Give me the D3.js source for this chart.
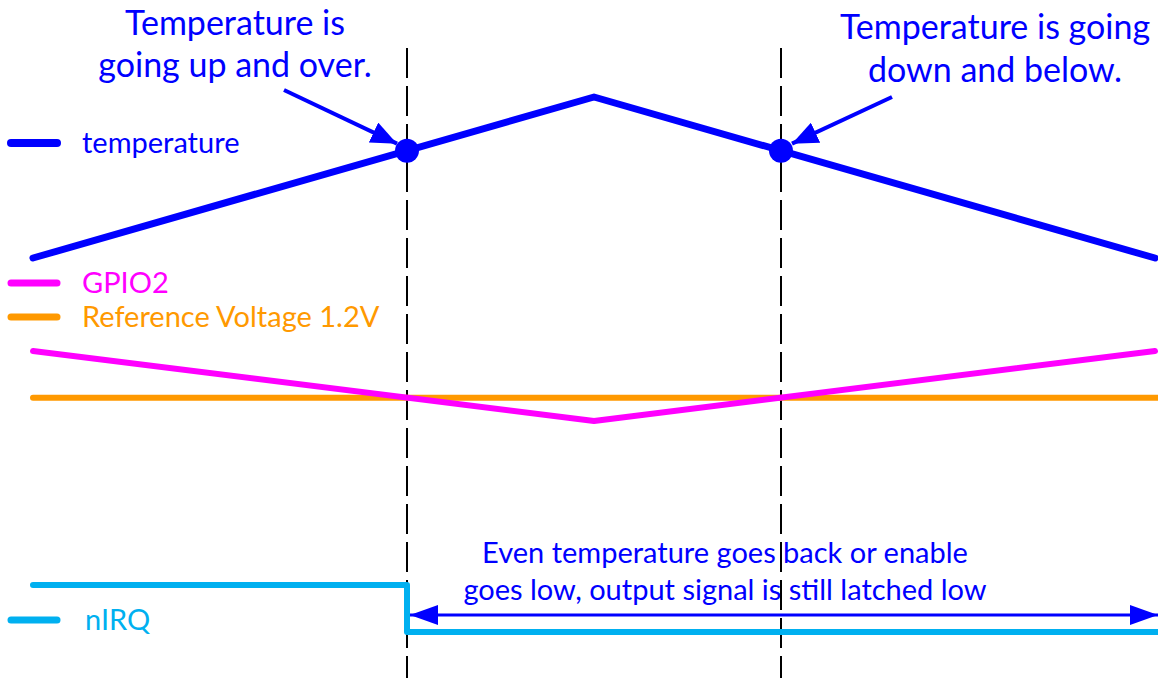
<!DOCTYPE html>
<html>
<head>
<meta charset="utf-8">
<script src="https://cdn.jsdelivr.net/npm/d3@7"></script>
<style>
  html, body { margin: 0; padding: 0; background: #fff; }
  svg { display: block; }
  text { font-family: Lato, "Open Sans", sans-serif; }
</style>
</head>
<body>
<svg id="chart" width="1158" height="678"></svg>
<script>
// Timing diagram: temperature ramp, GPIO2 comparator input vs. reference, latched nIRQ output.

// time axis (arbitrary units)
const timeDomain = [0, 60];
const crossTimes = [20, 40];          // where GPIO2 crosses the reference

// temperature (arbitrary units)
const temperatureT = [0, 30, 60];
const temperatureV = [20, 80, 20];

// GPIO2 voltage (V) and the reference level
const gpioT = [0, 30, 60];
const gpioV = [1.5, 1.05, 1.5];
const refVoltage = 1.2;

// nIRQ logic level: high until the first crossing, then latched low
const nirqT = [0, 20, 20, 60];
const nirqV = [1, 1, 0, 0];

const legendLabels = ["temperature", "GPIO2", "Reference Voltage 1.2V", "nIRQ"];
const noteUp = ["Temperature is", "going up and over."];
const noteDown = ["Temperature is going", "down and below."];
const noteLatch = ["Even temperature goes back or enable", "goes low, output signal is still latched low"];

const C = { temp: "#0000ff", gpio: "#ff00ff", ref: "#ff9900", nirq: "#00b0f0", note: "#0000ff" };

const svg = d3.select("#chart");

const x = d3.scaleLinear().domain(timeDomain).range([33, 1155]);
const yTemp = d3.scaleLinear().domain([20, 80]).range([258, 97]);
const yVolt = d3.scaleLinear().domain([1.05, 1.5]).range([421, 351]);
const yLogic = d3.scaleLinear().domain([0, 1]).range([632, 585]);

// arrowheads
const defs = svg.append("defs");
function head(id, len, half) {
  defs.append("marker")
    .attr("id", id)
    .attr("viewBox", `0 ${-half} ${len} ${2 * half}`)
    .attr("refX", len).attr("refY", 0)
    .attr("markerUnits", "userSpaceOnUse")
    .attr("markerWidth", len).attr("markerHeight", 2 * half)
    .attr("orient", "auto-start-reverse")
    .append("path")
    .attr("d", `M0,${-half}L${len},0L0,${half}Z`)
    .attr("fill", C.note);
}
head("headBig", 26, 11);
head("headLong", 28, 10);

// dashed markers at the crossing times
svg.append("g").selectAll("line")
  .data(crossTimes)
  .join("line")
  .attr("x1", d => x(d)).attr("x2", d => x(d))
  .attr("y1", 48).attr("y2", 678)
  .attr("stroke", "#000").attr("stroke-width", 2)
  .attr("stroke-dasharray", "30,8");

const line = (xs, ys, yS) => d3.line()
  .x((d, i) => x(xs[i])).y((d, i) => yS(ys[i]))(xs);

// signals
svg.append("path").attr("d", line(temperatureT, temperatureV, yTemp))
  .attr("fill", "none").attr("stroke", C.temp).attr("stroke-width", 7)
  .attr("stroke-linecap", "round").attr("stroke-linejoin", "round");

svg.append("line")
  .attr("x1", x(timeDomain[0])).attr("x2", 1158)
  .attr("y1", yVolt(refVoltage)).attr("y2", yVolt(refVoltage))
  .attr("stroke", C.ref).attr("stroke-width", 6).attr("stroke-linecap", "round");

svg.append("path").attr("d", line(gpioT, gpioV, yVolt))
  .attr("fill", "none").attr("stroke", C.gpio).attr("stroke-width", 6)
  .attr("stroke-linecap", "round").attr("stroke-linejoin", "round");

svg.append("path").attr("d", line(nirqT, nirqV, yLogic) + "H1158")
  .attr("fill", "none").attr("stroke", C.nirq).attr("stroke-width", 6)
  .attr("stroke-linecap", "round").attr("stroke-linejoin", "round");

// crossing dots on the temperature curve
const tempAt = t => d3.scaleLinear().domain(temperatureT).range(temperatureV)(t);
svg.append("g").selectAll("circle")
  .data(crossTimes)
  .join("circle")
  .attr("cx", d => x(d)).attr("cy", d => yTemp(tempAt(d)))
  .attr("r", 12).attr("fill", C.temp);

// legend
const legendRows = [
  { label: legendLabels[0], color: C.temp, y: 143, w: 8 },
  { label: legendLabels[1], color: C.gpio, y: 283, w: 7 },
  { label: legendLabels[2], color: C.ref, y: 317, w: 7 },
  { label: legendLabels[3], color: C.nirq, y: 620, w: 7 }
];
const lg = svg.append("g").selectAll("g").data(legendRows).join("g");
lg.append("line")
  .attr("x1", 11).attr("x2", 57)
  .attr("y1", d => d.y).attr("y2", d => d.y)
  .attr("stroke", d => d.color).attr("stroke-width", d => d.w)
  .attr("stroke-linecap", "round");
lg.append("text")
  .attr("x", (d, i) => i === 3 ? 85 : 82)
  .attr("y", d => d.y + 10)
  .attr("fill", d => d.color)
  .attr("font-size", 29)
  .text(d => d.label);

// annotations
function note(lines, cx, ys, size) {
  svg.append("g").selectAll("text").data(lines).join("text")
    .attr("x", cx).attr("y", (d, i) => ys[i])
    .attr("text-anchor", "middle")
    .attr("font-size", size)
    .attr("fill", C.note)
    .text(d => d);
}
note(noteUp, 235, [35, 77], 34);
note(noteDown, 995, [39, 82], 34);
note(noteLatch, 725, [563, 600], 29);

// pointer arrows toward the dots
svg.append("line")
  .attr("x1", 284).attr("y1", 90)
  .attr("x2", x(crossTimes[0]) - 10).attr("y2", yTemp(tempAt(crossTimes[0])) - 7)
  .attr("stroke", C.note).attr("stroke-width", 4)
  .attr("marker-end", "url(#headBig)");
svg.append("line")
  .attr("x1", 892).attr("y1", 97)
  .attr("x2", x(crossTimes[1]) + 11).attr("y2", yTemp(tempAt(crossTimes[1])) - 7)
  .attr("stroke", C.note).attr("stroke-width", 4)
  .attr("marker-end", "url(#headBig)");

// latched span arrow
svg.append("line")
  .attr("x1", x(crossTimes[0]) + 3).attr("x2", 1158)
  .attr("y1", 615).attr("y2", 615)
  .attr("stroke", C.note).attr("stroke-width", 3)
  .attr("marker-start", "url(#headLong)")
  .attr("marker-end", "url(#headLong)");
</script>
</body>
</html>
